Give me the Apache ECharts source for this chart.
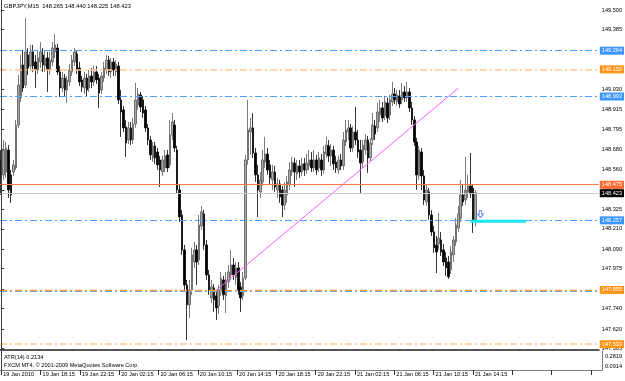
<!DOCTYPE html>
<html><head><meta charset="utf-8">
<script src="https://cdn.jsdelivr.net/npm/echarts@6/dist/echarts.min.js"></script>
<style>html,body{margin:0;padding:0;background:#fff}#c{width:625px;height:381px}</style>
</head><body><div id="c"></div>
<script>
// ---- data (GBPJPY, M15) ----
const opens = [148.616,148.528,148.545,148.675,148.528,148.545,148.569,148.822,148.982,149.176,149.058,149.235,149.170,149.253,149.194,149.146,149.194,149.235,149.170,149.217,149.146,149.194,149.253,149.276,149.135,149.040,149.099,149.029,149.076,149.135,149.194,149.241,149.158,149.088,149.040,149.099,149.040,149.111,149.076,149.135,149.099,149.029,149.099,149.146,149.205,149.135,149.194,149.135,149.170,148.970,148.911,148.811,148.734,148.805,148.734,148.828,148.940,148.999,148.970,148.911,148.805,148.734,148.628,148.699,148.663,148.616,148.545,148.569,148.646,148.587,148.763,148.822,148.675,148.439,148.292,148.086,147.879,147.762,147.850,148.015,148.086,148.027,148.227,148.298,148.115,147.938,147.803,147.862,147.815,147.756,147.838,147.909,147.815,147.897,147.938,147.997,147.921,147.980,147.868,147.815,147.921,148.616,148.781,148.805,148.657,148.528,148.428,148.487,148.604,148.651,148.587,148.498,148.545,148.439,148.475,148.439,148.351,148.410,148.469,148.545,148.598,148.534,148.581,148.545,148.593,148.557,148.581,148.616,148.569,148.616,148.569,148.616,148.557,148.651,148.699,148.640,148.675,148.604,148.557,148.616,148.581,148.722,148.781,148.805,148.687,148.781,148.734,148.675,148.604,148.675,148.734,148.628,148.734,148.816,148.805,148.881,148.923,148.875,148.952,148.881,148.958,149.005,148.958,148.993,148.970,149.017,148.982,149.017,148.923,148.852,148.722,148.522,148.663,148.522,148.369,148.428,148.292,148.192,148.115,148.121,148.145,148.086,148.039,148.015,147.968,148.056,148.133,148.215,148.274,148.410,148.380,148.428,148.463,148.451,148.265];
const closes = [148.510,148.675,148.687,148.439,148.410,148.587,148.822,149.058,149.176,149.040,149.253,149.158,149.253,149.170,149.146,149.217,149.253,149.176,149.217,149.146,149.205,149.276,149.294,149.135,149.040,149.099,149.029,149.088,149.146,149.205,149.253,149.146,149.076,149.046,149.099,149.029,149.111,149.076,149.135,149.088,149.011,149.111,149.158,149.205,149.135,149.194,149.146,149.182,148.970,148.899,148.805,148.716,148.805,148.734,148.828,148.970,149.005,148.928,148.893,148.805,148.734,148.646,148.699,148.628,148.587,148.557,148.616,148.640,148.569,148.763,148.840,148.687,148.439,148.280,148.086,147.879,147.762,147.850,148.056,148.086,148.015,148.233,148.310,148.115,147.938,147.850,147.868,147.791,147.744,147.850,147.921,147.821,147.909,147.956,147.997,147.938,147.980,147.850,147.803,147.921,148.616,148.793,148.805,148.657,148.528,148.439,148.498,148.616,148.651,148.557,148.510,148.545,148.457,148.475,148.398,148.351,148.439,148.487,148.557,148.604,148.545,148.581,148.545,148.593,148.557,148.598,148.616,148.569,148.616,148.557,148.628,148.557,148.663,148.704,148.640,148.675,148.593,148.569,148.616,148.581,148.734,148.793,148.805,148.687,148.781,148.734,148.663,148.598,148.704,148.734,148.628,148.716,148.822,148.769,148.899,148.923,148.864,148.958,148.864,148.970,149.005,148.970,148.999,148.946,149.017,148.982,149.017,148.923,148.852,148.722,148.528,148.675,148.522,148.380,148.439,148.292,148.192,148.098,148.074,148.156,148.074,148.015,147.980,147.927,148.074,148.145,148.233,148.298,148.410,148.369,148.439,148.463,148.416,148.263,148.423];
const lows = [148.410,148.498,148.510,148.392,148.363,148.522,148.557,148.805,148.958,149.017,149.040,149.117,149.146,149.135,149.040,149.123,149.158,149.135,149.135,149.017,149.117,149.170,149.217,149.117,148.987,149.017,148.993,148.952,149.052,149.111,149.170,149.123,149.052,149.017,149.005,148.993,149.017,149.040,149.052,149.064,148.923,149.005,149.076,149.123,149.111,149.099,149.111,149.111,148.946,148.752,148.781,148.634,148.710,148.704,148.710,148.805,148.911,148.899,148.864,148.781,148.704,148.616,148.604,148.593,148.557,148.457,148.522,148.545,148.545,148.569,148.734,148.663,148.416,148.251,148.056,147.850,147.555,147.685,147.821,147.980,147.879,147.997,148.204,148.086,147.909,147.821,147.773,147.720,147.673,147.709,147.815,147.791,147.714,147.862,147.909,147.909,147.879,147.821,147.720,147.791,147.909,148.587,148.646,148.628,148.487,148.280,148.392,148.463,148.569,148.528,148.469,148.439,148.428,148.392,148.363,148.280,148.321,148.363,148.439,148.522,148.457,148.498,148.510,148.522,148.522,148.534,148.557,148.545,148.545,148.528,148.545,148.522,148.534,148.628,148.604,148.581,148.557,148.540,148.534,148.557,148.557,148.699,148.734,148.663,148.663,148.704,148.628,148.422,148.569,148.646,148.540,148.604,148.704,148.734,148.781,148.840,148.840,148.852,148.834,148.852,148.934,148.946,148.934,148.923,148.946,148.958,148.958,148.899,148.822,148.699,148.439,148.498,148.439,148.351,148.345,148.263,148.168,148.068,147.950,148.086,148.050,147.991,147.933,147.915,147.944,148.015,148.109,148.192,148.251,148.345,148.351,148.392,148.392,148.186,148.225];
const highs = [148.675,148.734,148.722,148.704,148.557,148.616,148.852,149.117,149.235,149.264,149.453,149.276,149.294,149.294,149.235,149.264,149.311,149.276,149.264,149.253,149.253,149.311,149.359,149.300,149.170,149.135,149.123,149.111,149.182,149.235,149.276,149.264,149.194,149.111,149.135,149.123,149.146,149.158,149.170,149.170,149.123,149.135,149.194,149.235,149.229,149.217,149.217,149.205,149.194,149.029,148.934,148.852,148.840,148.840,148.864,149.070,149.040,149.017,148.993,148.934,148.828,148.758,148.722,148.722,148.687,148.640,148.640,148.675,148.675,148.852,148.893,148.852,148.699,148.469,148.321,148.115,147.909,147.909,148.098,148.133,148.115,148.292,148.345,148.321,148.145,147.968,147.909,147.885,147.850,147.879,147.956,147.933,147.956,147.997,148.086,148.039,148.015,148.015,147.897,147.956,148.646,148.970,148.864,148.893,148.687,148.587,148.545,148.675,148.752,148.687,148.616,148.587,148.581,148.510,148.498,148.463,148.487,148.522,148.604,148.634,148.628,148.616,148.616,148.628,148.628,148.651,148.675,148.663,148.675,148.646,148.663,148.651,148.699,148.752,148.734,148.710,148.699,148.640,148.640,148.651,148.781,148.852,148.852,148.828,148.816,148.928,148.793,148.734,148.734,148.769,148.758,148.746,148.893,148.852,148.952,148.970,148.958,148.993,148.982,148.999,149.076,149.040,149.029,149.029,149.070,149.052,149.076,149.040,148.958,148.875,148.746,148.699,148.687,148.557,148.469,148.451,148.321,148.227,148.168,148.304,148.192,148.121,148.074,148.050,148.109,148.168,148.274,148.345,148.498,148.469,148.634,148.528,148.657,148.475,148.440];

const priceTicks = [149.500,149.385,149.265,149.150,149.030,148.915,148.795,148.680,148.560,148.440,148.325,148.210,148.090,147.975,147.855,147.740,147.620,147.505];
const atrTicks = [0.0914, 0.2819];
const timeTickLabels = ['19 Jan 2010','19 Jan 18:15','19 Jan 22:15','20 Jan 02:15','20 Jan 06:15','20 Jan 10:15','20 Jan 14:15','20 Jan 18:15','20 Jan 22:15','21 Jan 02:15','21 Jan 06:15','21 Jan 10:15','21 Jan 14:15'];

const blueLevels = [149.264, 148.993, 148.257, 147.840];
const peachLevels = [149.150, 147.533];
const orangeLevels = [147.855];
const coralLevels = [148.475];
const bidPrice = 148.423;
const trendLine = [[87.1, 147.838], [187.1, 149.040]];
const cyanSegment = [[192, 148.255], [214.8, 148.255]];
const arrowPoint = [[196.1, 148.298]];
const titleText = 'GBPJPY,M15  148.265 148.440 148.225 148.423';
const atrText = 'ATR(14) 0.2134';
const copyText = 'FXCM MT4, © 2001-2009 MetaQuotes Software Corp.';

// ---- build ----
const SLOTS = 245;
const cats = [];
for (let i = 0; i < SLOTS; i++) cats.push(String(i));
const candles = opens.map((o, i) => [o, closes[i], lows[i], highs[i]]);
const FONT = 'Liberation Sans';
const FS = 5.6;

function boxLabel(v, bg) {
  const txt = v.toFixed(3);
  return { show: true, position: 'end', distance: 1, formatter: () => txt,
    backgroundColor: bg, color: '#fff', fontSize: FS, fontFamily: FONT, padding: [1, 2, 0, 2], lineHeight: 7 };
}
const dashDot = [7, 3, 2, 3];
const markData = [];
peachLevels.forEach(v => markData.push({ yAxis: v, lineStyle: { color: '#ffc98f', type: dashDot, width: 1.5 }, label: boxLabel(v, '#ff9418') }));
blueLevels.forEach((v, k) => markData.push({ yAxis: v, lineStyle: { color: '#4aa0ff', type: dashDot, width: 1 }, label: k === 3 ? { show: false } : boxLabel(v, '#3c96ff') }));
orangeLevels.forEach(v => markData.push({ yAxis: v, lineStyle: { color: '#ff9f2e', type: dashDot, width: 1.3 }, label: boxLabel(v, '#ff9418') }));
coralLevels.forEach(v => markData.push({ yAxis: v, lineStyle: { color: '#ff7a45', type: 'solid', width: 1 }, label: boxLabel(v, '#ff6a30') }));
markData.push({ yAxis: bidPrice, lineStyle: { color: '#c8c8c8', type: 'solid', width: 1 }, label: boxLabel(bidPrice, '#000000') });

const chart = echarts.init(document.getElementById('c'), null, { renderer: 'canvas' });
chart.setOption({
  animation: false,
  backgroundColor: '#ffffff',
  textStyle: { fontFamily: FONT },
  grid: [
    { left: 0, width: 602, top: 2, height: 348 },
    { left: 0, width: 602, top: 351, height: 19 }
  ],
  xAxis: [
    { type: 'category', gridIndex: 0, data: cats, boundaryGap: true,
      axisLine: { show: true, lineStyle: { color: '#555', width: 2 } }, axisTick: { show: false }, axisLabel: { show: false }, splitLine: { show: false } },
    { type: 'category', gridIndex: 1, data: cats, boundaryGap: true,
      axisLine: { show: true, lineStyle: { color: '#808080', width: 1 } },
      axisTick: { show: true, interval: 15, alignWithLabel: true, length: 5, lineStyle: { color: '#333' } },
      axisLabel: { show: true, interval: 15, align: 'left', margin: 1, fontSize: FS, fontFamily: FONT, color: '#000', padding: [0,0,0,2],
        formatter: (v, idx) => timeTickLabels[idx / 16] || '' } },
    { type: 'value', gridIndex: 0, min: -0.5, max: SLOTS - 0.5, show: false }
  ],
  yAxis: [
    { type: 'value', gridIndex: 0, position: 'right', min: 147.496, max: 149.547, scale: true,
      axisLine: { show: true, lineStyle: { color: '#808080' } },
      axisTick: { show: true, length: 3, customValues: priceTicks, lineStyle: { color: '#333' } },
      axisLabel: { show: true, customValues: priceTicks, margin: 3, fontSize: FS, fontFamily: FONT, color: '#000', formatter: v => v.toFixed(3) },
      splitLine: { show: false } },
    { type: 'value', gridIndex: 1, position: 'right', min: 0.0152, max: 0.377,
      axisLine: { show: true, lineStyle: { color: '#808080' } },
      axisTick: { show: false },
      axisLabel: { show: true, customValues: atrTicks, margin: 3, fontSize: FS, fontFamily: FONT, color: '#000', formatter: v => v.toFixed(4) },
      splitLine: { show: false } }
  ],
  series: [
    { type: 'candlestick', xAxisIndex: 0, yAxisIndex: 0, data: candles, barWidth: 2,
      itemStyle: { color: '#a6a6a6', color0: '#000000', borderColor: '#5a5a5a', borderColor0: '#000000', borderWidth: 0.8 },
      markLine: { silent: true, symbol: ['none', 'none'], animation: false, data: markData }
    },
    { type: 'line', xAxisIndex: 2, yAxisIndex: 0, data: trendLine, showSymbol: false, symbol: 'none',
      lineStyle: { color: '#ff5cff', width: 1 }, z: 4 },
    { type: 'line', xAxisIndex: 2, yAxisIndex: 0, data: cyanSegment, showSymbol: false, symbol: 'none',
      lineStyle: { color: '#19e6f0', width: 3 }, z: 5 },
    { type: 'scatter', xAxisIndex: 2, yAxisIndex: 0, data: arrowPoint, z: 6,
      symbol: 'path://M3,0 L7,0 L7,5 L10,5 L5,10 L0,5 L3,5 Z', symbolSize: [6, 7],
      itemStyle: { color: '#ffffff', borderColor: '#3a6cff', borderWidth: 1 } }
  ],
  graphic: [
    { type: 'line', shape: { x1: 1.5, y1: 0, x2: 1.5, y2: 371 }, style: { stroke: '#404040', lineWidth: 1 }, z: 10 },
    { type: 'text', left: 4, top: 3, style: { text: titleText, fontSize: 5.8, fontFamily: FONT, fill: '#000' }, z: 10 },
    { type: 'text', left: 4, top: 354, style: { text: atrText, fontSize: FS, fontFamily: FONT, fill: '#000' }, z: 10 },
    { type: 'text', left: 4, top: 362, style: { text: copyText, fontSize: FS, fontFamily: FONT, fill: '#000' }, z: 10 }
  ]
});
</script></body></html>
